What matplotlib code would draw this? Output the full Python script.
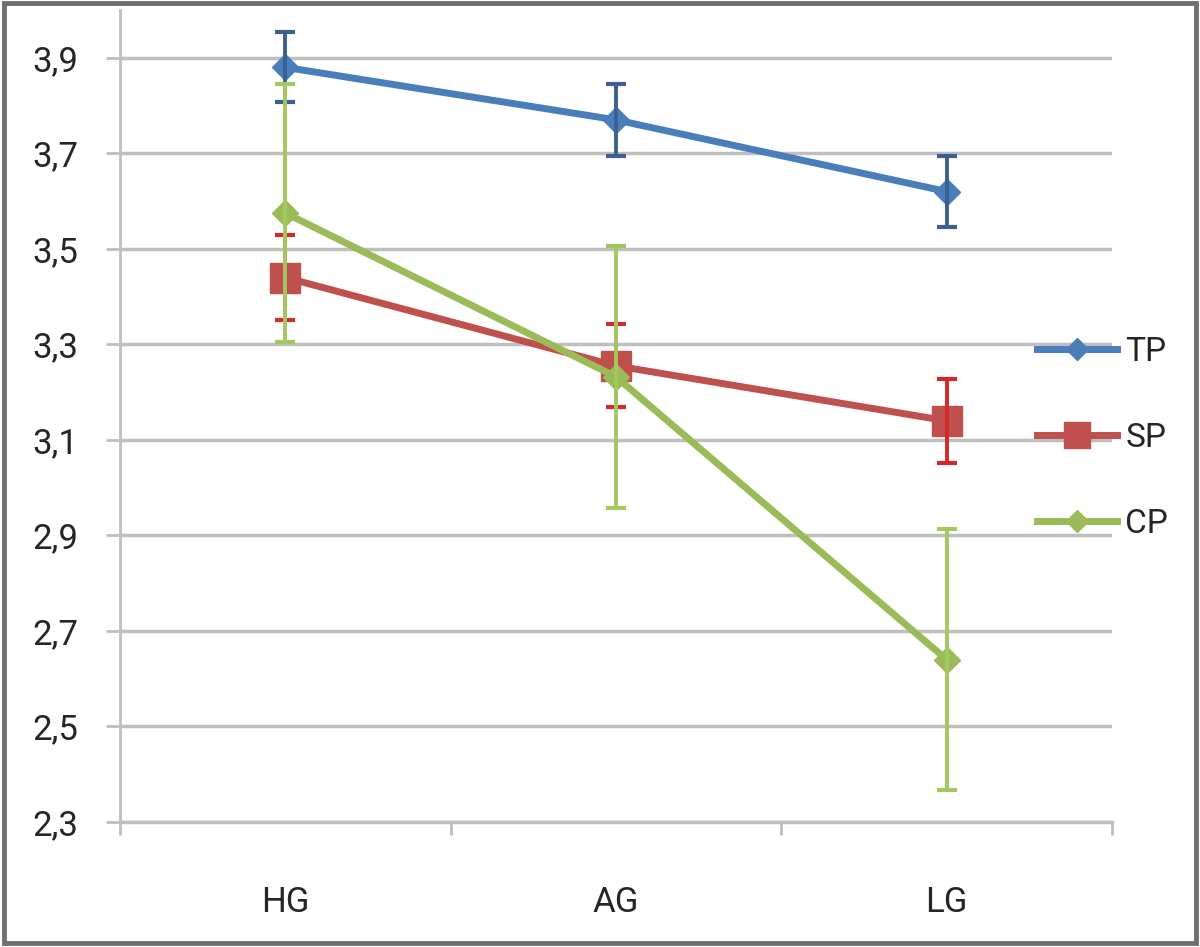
import matplotlib
matplotlib.use("Agg")
import matplotlib.pyplot as plt
from matplotlib.patches import Rectangle
from matplotlib.lines import Line2D

categories = ["HG", "AG", "LG"]
series_names = ["TP", "SP", "CP"]
tp_values = [3.88, 3.77, 3.62]
tp_errors = [0.073, 0.076, 0.074]
sp_values = [3.44, 3.255, 3.14]
sp_errors = [0.089, 0.087, 0.088]
cp_values = [3.575, 3.232, 2.64]
cp_errors = [0.27, 0.274, 0.273]
y_ticks = [2.3, 2.5, 2.7, 2.9, 3.1, 3.3, 3.5, 3.7, 3.9]
y_tick_labels = ["2,3", "2,5", "2,7", "2,9", "3,1", "3,3", "3,5", "3,7", "3,9"]

FONT = ["Roboto", "DejaVu Sans"]

fig = plt.figure(figsize=(12.0, 9.47), dpi=100)
ax = fig.add_axes([0.1, 0.132, 0.8267, 0.8574])

grid_c = "#bfbfbf"
x = list(range(len(categories)))

styles = [
    dict(vals=tp_values, errs=tp_errors, color="#4a7ebb", ecolor="#3d5f8f",
         marker="D", ms=13, z=3),
    dict(vals=sp_values, errs=sp_errors, color="#c0504d", ecolor="#d12a2a",
         marker="s", ms=22, z=4),
    dict(vals=cp_values, errs=cp_errors, color="#9bbb59", ecolor="#a4c860",
         marker="D", ms=13, z=5),
]

handles = []
for name, st in zip(series_names, styles):
    ax.plot(x, st["vals"], color=st["color"], lw=5, marker=st["marker"],
            ms=st["ms"], mfc=st["color"], mec=st["color"], zorder=st["z"])
    ax.errorbar(x, st["vals"], yerr=st["errs"], fmt="none", ecolor=st["ecolor"],
                elinewidth=2.8, capsize=7, capthick=3, zorder=st["z"] + 0.5)
    handles.append(Line2D([0], [0], color=st["color"], lw=5, marker=st["marker"],
                          ms=st["ms"] * 0.85, mfc=st["color"], mec=st["color"]))

ax.set_xlim(-0.5, 2.5)
ax.set_ylim(2.3, 4.0)
ax.set_yticks(y_ticks)
ax.set_yticklabels(y_tick_labels, fontfamily=FONT, fontsize=25)
ax.set_xticks([-0.5, 0.5, 1.5, 2.5])
ax.set_xticklabels([])
ax.set_xticks(x, minor=True)
ax.set_xticklabels(categories, minor=True, fontfamily=FONT, fontsize=25)
ax.tick_params(axis="x", which="minor", length=0, pad=46)
ax.tick_params(axis="x", which="major", length=9, width=2, color=grid_c, direction="out")
ax.tick_params(axis="y", length=10, width=2, color=grid_c, pad=20)
for lab in ax.get_yticklabels() + ax.get_xticklabels(minor=True):
    lab.set_color("#262626")

ax.grid(axis="y", color=grid_c, lw=2.5)
ax.set_axisbelow(True)
for s in ["top", "right"]:
    ax.spines[s].set_visible(False)
ax.spines["left"].set_color(grid_c)
ax.spines["left"].set_linewidth(2)
ax.spines["bottom"].set_color(grid_c)
ax.spines["bottom"].set_linewidth(2.5)

leg = fig.legend(handles, series_names, loc="center left",
                 bbox_to_anchor=(1037 / 1200, 1 - 438 / 947), frameon=False,
                 prop={"family": FONT, "size": 24}, handlelength=2.4,
                 labelspacing=1.62, handletextpad=0.25, borderpad=0,
                 borderaxespad=0)
for t in leg.get_texts():
    t.set_color("#262626")

fig.patches.append(Rectangle((0.003, 0.004), 0.994, 0.993, transform=fig.transFigure,
                             fill=False, edgecolor="#707070", lw=3.5))

fig.savefig("out.png", dpi=100)
